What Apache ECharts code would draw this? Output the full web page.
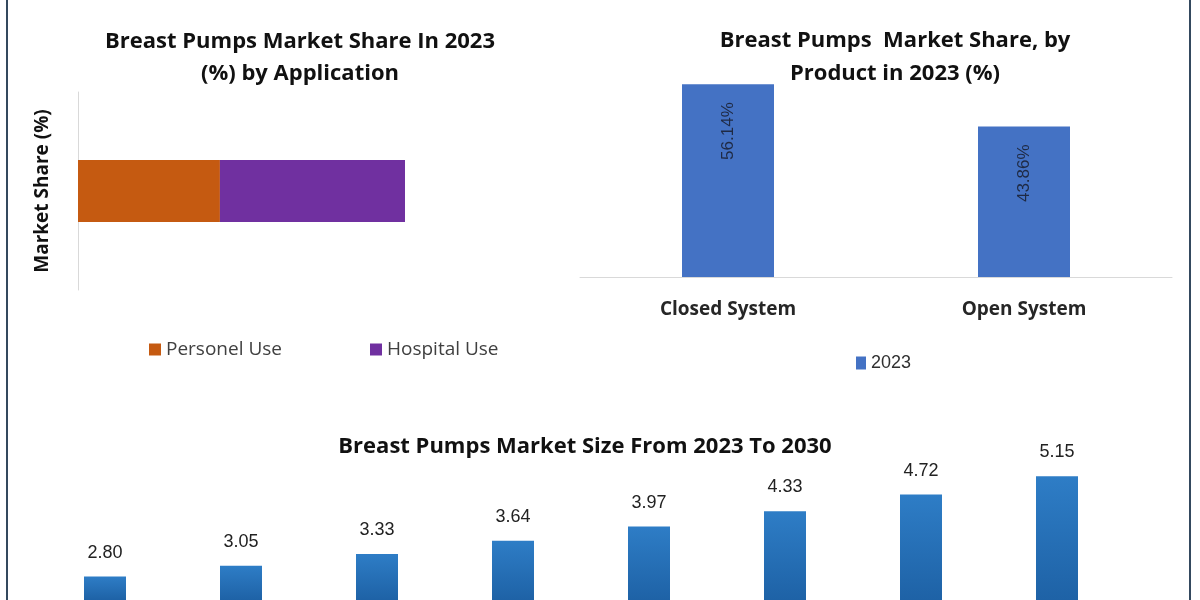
<!DOCTYPE html>
<html>
<head>
<meta charset="utf-8">
<script src="https://cdn.jsdelivr.net/npm/echarts@6/dist/echarts.min.js"></script>
<style>
html,body{margin:0;padding:0;background:#fff;}
#wrap{position:relative;width:1200px;height:600px;overflow:hidden;}
#chart{position:absolute;left:0;top:0;width:1200px;height:600px;}
#frame{position:absolute;left:6px;top:0;width:1181px;height:600px;border-left:2px solid #34495e;border-right:2px solid #34495e;pointer-events:none;}
</style>
</head>
<body>
<div id="wrap"><div id="chart"></div><div id="frame"></div></div>
<script>
// Chart 1: market share by application (%)
const appCategories = ['2023'];
const personalUse = [43.4];
const hospitalUse = [56.6];
// Chart 2: market share by product (%)
const productCategories = ['Closed System', 'Open System'];
const productShare = [56.14, 43.86];
// Chart 3: market size 2023-2030
const years = ['2023', '2024', '2025', '2026', '2027', '2028', '2029', '2030'];
const marketSize = [2.80, 3.05, 3.33, 3.64, 3.97, 4.33, 4.72, 5.15];

const titleFont = '"Open Sans", Lato, sans-serif';
const textFont = '"Open Sans", Lato, sans-serif';
const numFont = '"Liberation Sans", Arial, sans-serif';
const chart = echarts.init(document.getElementById('chart'));
chart.setOption({
  animation: false,
  backgroundColor: 'transparent',
  title: [
    {text: 'Breast Pumps Market Share In 2023\n(%) by Application', left: 295, top: 21, textAlign: 'center',
     textStyle: {fontFamily: titleFont, fontWeight: 'bold', fontSize: 22, lineHeight: 32, color: '#111'}},
    {text: 'Breast Pumps  Market Share, by\nProduct in 2023 (%)', left: 890, top: 19, textAlign: 'center',
     textStyle: {fontFamily: titleFont, fontWeight: 'bold', fontSize: 22, lineHeight: 33, color: '#111'}},
    {text: 'Breast Pumps Market Size From 2023 To 2030', left: 580, top: 431, textAlign: 'center',
     textStyle: {fontFamily: titleFont, fontWeight: 'bold', fontSize: 22, color: '#111'}}
  ],
  legend: [
    {data: ['Personel Use', 'Hospital Use'], left: 144, top: 335, icon: 'rect', itemWidth: 12, itemHeight: 12, itemGap: 88,
     textStyle: {fontFamily: textFont, fontSize: 19, color: '#404040'}},
    {data: ['2023'], left: 851, top: 349, icon: 'rect', itemWidth: 10, itemHeight: 13,
     textStyle: {fontFamily: numFont, fontSize: 18, color: '#303030'}}
  ],
  grid: [
    {left: 78, top: 92, width: 327, height: 198},
    {left: 580, top: 71, width: 592, height: 206},
    {left: 37, top: 440, width: 1088, height: 160}
  ],
  xAxis: [
    {gridIndex: 0, type: 'value', min: 0, max: 100, show: false},
    {gridIndex: 1, type: 'category', data: productCategories,
     axisLine: {lineStyle: {color: '#d9d9d9', width: 1}}, axisTick: {show: false},
     axisLabel: {margin: 23, fontFamily: titleFont, fontWeight: 'bold', fontSize: 19, color: '#262626'}},
    {gridIndex: 2, type: 'category', data: years, show: false}
  ],
  yAxis: [
    {gridIndex: 0, type: 'category', data: appCategories,
     axisLine: {show: true, lineStyle: {color: '#d9d9d9', width: 1}}, axisTick: {show: false}, axisLabel: {show: false},
     name: 'Market Share (%)', nameLocation: 'middle', nameRotate: 90, nameGap: 26,
     nameTextStyle: {fontFamily: titleFont, fontWeight: 'bold', fontSize: 19, color: '#111'}},
    {gridIndex: 1, type: 'value', min: 0, max: 60, show: false, splitLine: {show: false}},
    {gridIndex: 2, type: 'value', min: 2.25, max: 6, show: false, splitLine: {show: false}}
  ],
  series: [
    {name: 'Personel Use', type: 'bar', stack: 'app', xAxisIndex: 0, yAxisIndex: 0, data: personalUse, barWidth: 62,
     itemStyle: {color: '#C55A11'}},
    {name: 'Hospital Use', type: 'bar', stack: 'app', xAxisIndex: 0, yAxisIndex: 0, data: hospitalUse, barWidth: 62,
     itemStyle: {color: '#7030A0'}},
    {name: '2023', type: 'bar', xAxisIndex: 1, yAxisIndex: 1, data: productShare, barWidth: 92,
     itemStyle: {color: '#4472C4'},
     label: {show: true, position: 'insideTop', distance: 18, rotate: 90, align: 'right', verticalAlign: 'middle',
       formatter: p => p.value.toFixed(2) + '%',
       fontFamily: numFont, fontSize: 17, color: '#1f2a44'}},
    {name: 'Market Size', type: 'bar', xAxisIndex: 2, yAxisIndex: 2, data: marketSize, barWidth: 42,
     itemStyle: {color: {type: 'linear', x: 0, y: 0, x2: 0, y2: 1,
       colorStops: [{offset: 0, color: '#2E7DC6'}, {offset: 1, color: '#1E62A6'}]}},
     label: {show: true, position: 'top', distance: 15,
       formatter: p => p.value.toFixed(2),
       fontFamily: numFont, fontSize: 18, color: '#222'}}
  ]
});
</script>
</body>
</html>
